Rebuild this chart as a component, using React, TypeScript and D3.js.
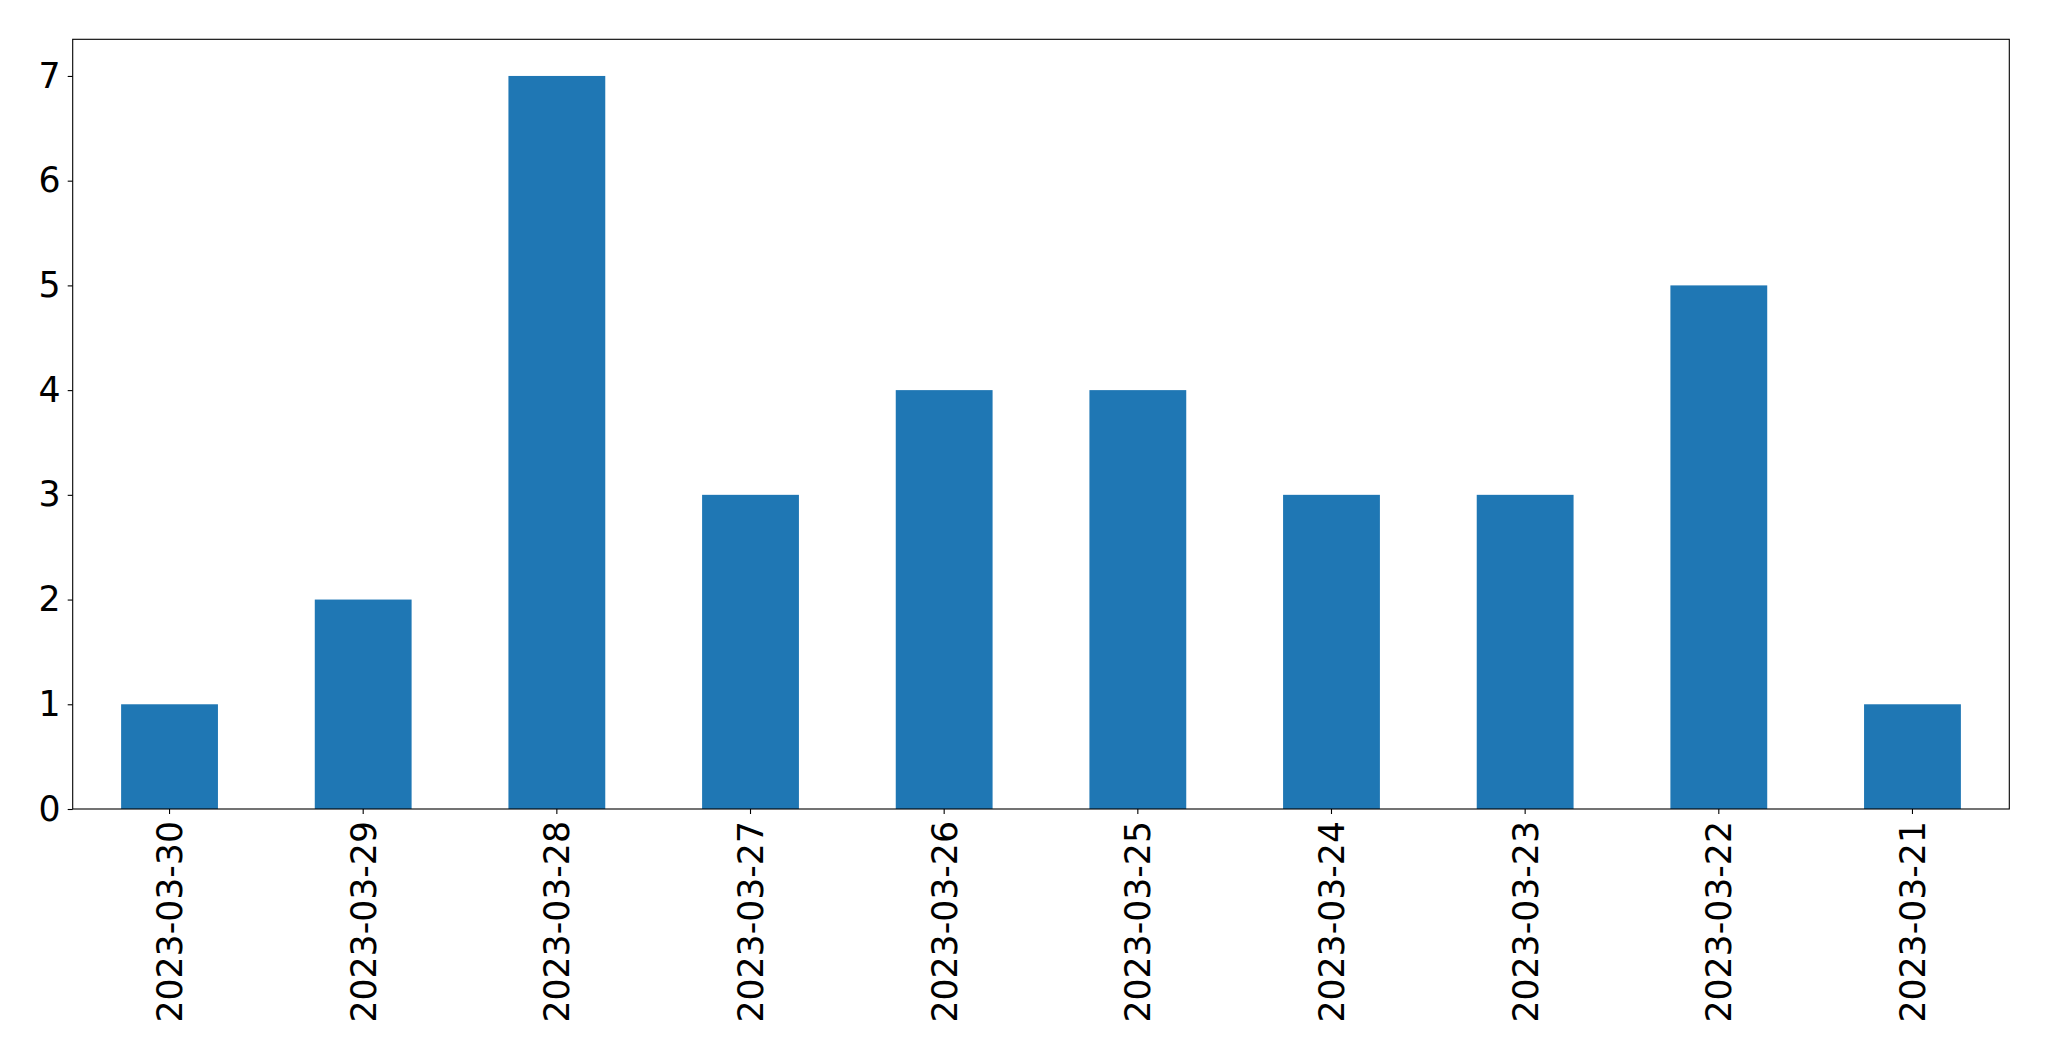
import { useEffect, useRef } from 'react'
import * as d3 from 'd3'

const dates = [
  '2023-03-30',
  '2023-03-29',
  '2023-03-28',
  '2023-03-27',
  '2023-03-26',
  '2023-03-25',
  '2023-03-24',
  '2023-03-23',
  '2023-03-22',
  '2023-03-21',
]
const counts = [1, 2, 7, 3, 4, 4, 3, 3, 5, 1]
const yTicks = [0, 1, 2, 3, 4, 5, 6, 7]

export default function App() {
  const svgRef = useRef<SVGSVGElement>(null)

  useEffect(() => {
    const svg = d3.select(svgRef.current)
    svg.selectAll('*').remove()

    const W = 2049
    const H = 1061
    const left = 72.7
    const right = 2009.3
    const top = 39.3
    const bottom = 809
    const font = 'DejaVu Sans, sans-serif'
    const fontSize = '34.7px'

    svg.attr('width', W).attr('height', H)

    const x = d3
      .scaleBand<string>()
      .domain(dates)
      .range([left, right])
      .paddingInner(0.5)
      .paddingOuter(0.25)

    const yMax = d3.max(counts)! * 1.05
    const y = d3.scaleLinear().domain([0, yMax]).range([bottom, top])

    svg.append('rect').attr('width', W).attr('height', H).attr('fill', '#fff')

    // bars
    svg
      .selectAll('.bar')
      .data(counts)
      .enter()
      .append('rect')
      .attr('class', 'bar')
      .attr('x', (_, i) => x(dates[i])!)
      .attr('width', x.bandwidth())
      .attr('y', (d) => y(d))
      .attr('height', (d) => y(0) - y(d))
      .attr('fill', '#1f77b4')

    // frame
    svg
      .append('rect')
      .attr('x', left)
      .attr('y', top)
      .attr('width', right - left)
      .attr('height', bottom - top)
      .attr('fill', 'none')
      .attr('stroke', '#000')
      .attr('stroke-width', 1.1)

    // y axis
    const yAxis = svg
      .append('g')
      .attr('transform', `translate(${left},0)`)
      .call(d3.axisLeft(y).tickValues(yTicks).tickSize(5).tickPadding(7).tickFormat(d3.format('d')))
    yAxis.select('.domain').remove()
    yAxis.selectAll('.tick line').attr('stroke', '#000').attr('stroke-width', 1.1)
    yAxis
      .selectAll('.tick text')
      .attr('fill', '#000')
      .style('font-family', font)
      .style('font-size', fontSize)

    // x axis
    const xAxis = svg
      .append('g')
      .attr('transform', `translate(0,${bottom})`)
      .call(d3.axisBottom(x).tickSize(5).tickSizeOuter(0))
    xAxis.select('.domain').remove()
    xAxis.selectAll('.tick line').attr('stroke', '#000').attr('stroke-width', 1.1)
    xAxis
      .selectAll('.tick text')
      .attr('fill', '#000')
      .attr('y', 0)
      .attr('dy', '0.36em')
      .attr('transform', 'translate(0,12) rotate(-90)')
      .attr('text-anchor', 'end')
      .style('font-family', font)
      .style('font-size', fontSize)
  }, [])

  return <svg ref={svgRef} style={{ position: 'absolute', left: 0, top: 0 }} />
}
